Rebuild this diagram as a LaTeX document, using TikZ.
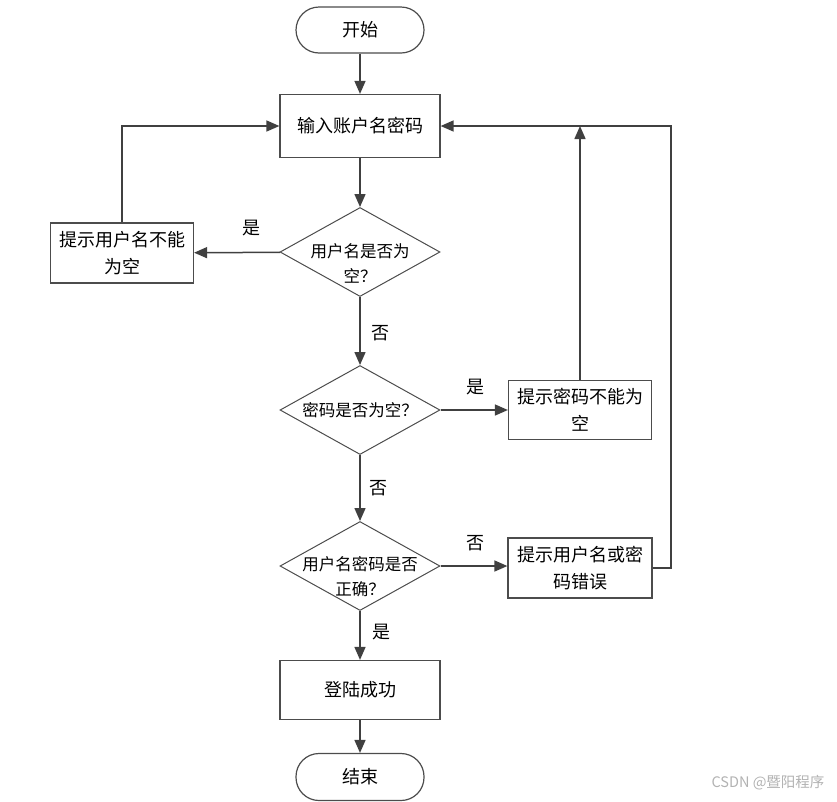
\documentclass[tikz,border=0pt]{standalone}
\usepackage{fontspec}
\setmainfont{Noto Sans CJK SC}
\usetikzlibrary{shapes.geometric,arrows.meta}
\begin{document}
\begin{tikzpicture}[x=1pt,y=-1pt]
\tikzstyle{every node}+=[inner sep=0pt, font=\fontsize{18}{27}\selectfont]
\tikzstyle{terminal}=[draw=black!70, line width=1.2pt, rounded corners=23pt, minimum width=128pt, minimum height=46pt]
\tikzstyle{process}=[draw=black!70, line width=1.2pt, minimum width=160pt, minimum height=63pt, align=center]
\tikzstyle{decision}=[draw=black!70, line width=1pt, diamond, minimum width=160pt, minimum height=89pt]
\tikzstyle{qtext}=[align=center, yshift=-11pt, font=\fontsize{16.5}{25}\selectfont]
\tikzstyle{flow}=[draw=black!75, line width=1.5pt, -{Triangle[length=13pt,width=11pt]}]
\useasboundingbox (0,0) rectangle (837,801);
% main column
\node[terminal] (start) at (360,30) {开始};
\node[process] (input) at (360,126) {输入账户名密码};
\node[decision, label={[qtext]center:用户名是否为\\空？}] (q1) at (360,252) {};
\node[decision, label={[qtext, yshift=11pt]center:密码是否为空？}] (q2) at (360,410) {};
\node[decision, label={[qtext]center:用户名密码是否\\正确？}] (q3) at (360,566) {};
\node[process, minimum height=59pt] (ok) at (360,690) {登陆成功};
\node[terminal, minimum height=47pt] (end) at (360,777) {结束};
% side boxes
\node[process, minimum width=143pt, minimum height=60pt] (nameerr) at (122,253) {提示用户名不能\\为空};
\node[process, minimum width=143pt, minimum height=59pt] (pwderr) at (580,410) {提示密码不能为\\空};
\node[process, minimum width=144pt, minimum height=60pt] (autherr) at (580,568) {提示用户名或密\\码错误};
\coordinate (loop) at (671,126);
% connectors
\draw[flow] (start) -- (input);
\draw[flow] (input) -- (q1);
\draw[flow] (q1) -- (nameerr);
\draw[flow] (nameerr.north) |- (input.west);
\draw[flow] (q1) -- (q2);
\draw[flow] (q2) -- (pwderr);
\draw[flow] (pwderr.north) -- (pwderr.north |- input.east);
\draw[flow] (q2) -- (q3);
\draw[flow] (q3.east) -- (q3.east -| autherr.west);
\draw[flow] (autherr.east) -| (loop) -- (input.east);
\draw[flow] (q3) -- (ok);
\draw[flow] (ok) -- (end);
% labels
\node (yes1) at (251,228) {是};
\node (no1) at (380,333) {否};
\node (yes2) at (475,387) {是};
\node (no2) at (378,488) {否};
\node (no3) at (475,543) {否};
\node (yes3) at (381,632) {是};
\node[text=black!30, font=\fontsize{14.5}{16}\selectfont] (mark) at (768,783) {CSDN @暨阳程序};
\end{tikzpicture}
\end{document}
